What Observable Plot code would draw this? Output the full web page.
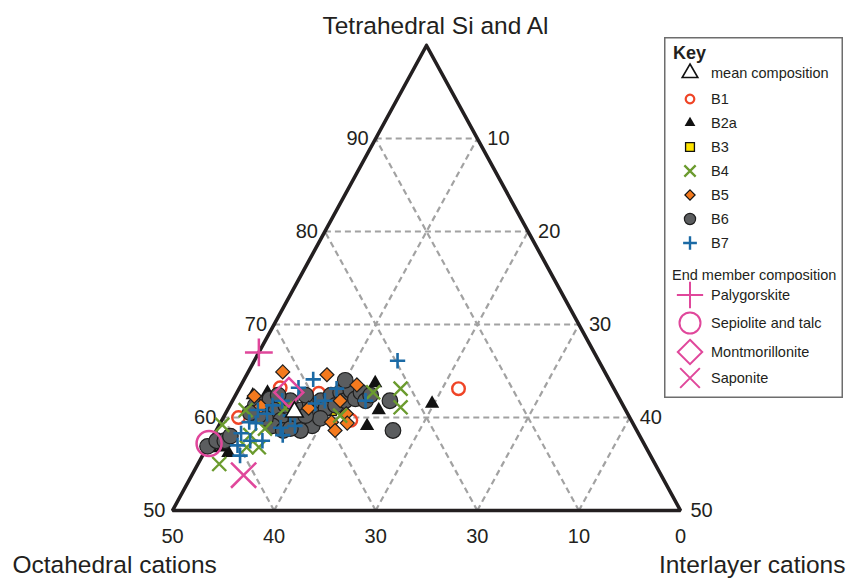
<!DOCTYPE html>
<html><head><meta charset="utf-8">
<script src="https://cdn.jsdelivr.net/npm/d3@7"></script>
<script src="https://cdn.jsdelivr.net/npm/@observablehq/plot@0.6"></script>
<style>
body{margin:0;background:#fff;font-family:"Liberation Sans",Arial,sans-serif;}
#wrap{position:relative;width:847px;height:578px;overflow:hidden;background:#fff}
#legend{position:absolute;left:664px;top:37px;}
</style></head><body><div id="wrap"><div id="chart"></div><div id="legend"></div></div>
<script>
// ---- data: [Tetrahedral Si+Al, Interlayer cations] (%); Octahedral = 100 - T - I
const meanComposition = [[60.6, 6.7]];
const b1 = [[63.1,21.6],[60.0,1.5],[63.2,4.0],[62.6,8.1],[59.7,12.7]];
const b2a = [[61.5,19.8],[63.7,13.1],[60.8,14.9],[59.1,14.6],[62.4,1.7],[62.7,3.0],[56.8,1.5],[56.7,0.4],[56.2,2.4]];
const b3 = [[59.2,8.5],[59.9,4.7],[60.8,10.2]];
const b4 = [[63.1,15.9],[61.1,16.9],[62.7,13.4],[59.2,0.3],[55.0,2.1],[56.8,5.1],[60.8,1.8],[56.8,3.9],[60.2,11.4],[61.0,5.6],[58.8,4.7],[58.1,3.6]];
const b5 = [[64.9,3.4],[64.6,7.9],[63.5,11.4],[60.4,11.9],[59.5,10.9],[59.4,12.5],[58.6,11.7],[62.3,1.9],[61.2,3.1],[61.0,7.9],[61.8,10.6]];
const b6 = [[56.9,0.0],[57.5,0.6],[57.5,1.4],[58.0,1.7],[61.4,3.2],[62.0,3.6],[60.8,4.8],[59.7,5.8],[61.3,5.5],[61.8,5.7],
  [59.7,7.3],[60.8,7.2],[59.1,5.3],[59.9,4.2],[60.2,3.4],[58.6,6.6],[61.5,7.8],[60.5,8.8],[61.8,8.7],[61.0,9.6],
  [62.4,9.4],[61.3,10.4],[62.7,10.2],[61.8,11.1],[62.9,11.1],[62.0,12.0],[62.7,12.2],[64.0,10.0],[61.8,13.1],[62.4,13.3],
  [59.1,9.2],[58.6,8.3],[58.8,7.2],[62.4,6.9],[61.3,2.5],[60.5,2.4],[59.9,9.6],[60.2,8.0],[61.8,15.5],[58.6,17.4],[62.4,4.2]];
const b7 = [[66.1,14.1],[64.1,6.8],[63.1,9.6],[61.8,13.1],[55.9,3.7],[57.0,2.9],[57.5,3.9],[58.3,2.6],[59.4,3.5],[60.8,3.0],
  [60.4,4.1],[61.3,4.2],[61.8,4.9],[60.2,6.5],[59.1,7.5],[58.9,6.2],[58.1,6.8],[63.2,5.8],[61.5,8.3],[61.8,9.1],[57.5,5.1],[59.5,2.8]];
const palygorskite = [[67.0, 0.0]];
const sepioliteTalc = [[57.2, 0.0]];
const montmorillonite = [[62.7, 5.1]];
const saponite = [[53.8, 5.1]];

const tetTicks = [50, 60, 70, 80, 90];
const interTicks = [10, 20, 30, 40, 50];
const octTicks = [50, 40, 30, 20, 10, 0];
const octTickLabels = ["50", "40", "30", "30", "10", "0"];
const gridTet = [60, 70, 80, 90];
const gridOct = [10, 20, 30, 40];
const gridInter = [10, 20, 30, 40];

// ---- helpers
const rows = (arr) => arr.map(([t, i]) => ({tet: t, inter: i, oct: 100 - t - i}));
const X = (t, i) => i + (t - 50) / 2;
const Y = (t) => t - 50;
const px = {x: d => X(d.tet, d.inter), y: d => Y(d.tet)};

const segs = [];
gridTet.forEach(t => segs.push({x1: X(t, 0), y1: Y(t), x2: X(t, 100 - t), y2: Y(t)}));
gridOct.forEach(o => segs.push({x1: X(50, 50 - o), y1: Y(50), x2: X(100 - o, 0), y2: Y(100 - o)}));
gridInter.forEach(i => segs.push({x1: X(50, i), y1: Y(50), x2: X(100 - i, i), y2: Y(100 - i)}));

const outline = [[100, 0], [50, 0], [50, 50], [100, 0]].map(([t, i]) => ({x: X(t, i), y: Y(t)}));

const C = {b1:"#ef4426", b2a:"#111", b3:"#ffe400", b4:"#6b9b2e", b5:"#f47a1e", b6:"#5b5d5f", b7:"#1b6aa5", em:"#e0479b"};
const INK = "#231f20";

const chart = Plot.plot({
  width: 847, height: 578, margin: 0,
  style: {fontFamily: "'Liberation Sans', Arial, sans-serif", color: INK, background: "transparent"},
  x: {domain: [0, 50], range: [172, 680], axis: null},
  y: {domain: [0, 50], range: [510, 45], axis: null},
  marks: [
    Plot.link(segs, {x1: "x1", y1: "y1", x2: "x2", y2: "y2", stroke: "#a2a2a2", strokeWidth: 2.2, strokeDasharray: "6,4"}),
    Plot.line(outline, {x: "x", y: "y", stroke: INK, strokeWidth: 3.6, strokeLinejoin: "miter"}),
    // tick labels
    Plot.text(tetTicks, {x: t => X(t, 0), y: t => Y(t), text: t => String(t), textAnchor: "end", dx: -7, fontSize: 20, fill: INK}),
    Plot.text(interTicks, {x: i => X(100 - i, i), y: i => Y(100 - i), text: i => String(i), textAnchor: "start", dx: 10, fontSize: 20, fill: INK}),
    Plot.text(octTicks.map((o, k) => ({o, label: octTickLabels[k]})), {x: d => X(50, 50 - d.o), y: () => Y(50), text: "label", dy: 26, fontSize: 20, fill: INK}),
    // axis titles
    Plot.text(["Tetrahedral Si and Al"], {x: () => X(100, 0), y: () => Y(100), dx: 9, dy: -19, fontSize: 24.5, fill: INK}),
    Plot.text(["Octahedral cations"], {frameAnchor: "bottom-left", textAnchor: "start", lineAnchor: "bottom", dx: 12, dy: -5.5, fontSize: 24.5, fill: INK}),
    Plot.text(["Interlayer cations"], {frameAnchor: "bottom-right", textAnchor: "end", lineAnchor: "bottom", dx: -2, dy: -5.5, fontSize: 24.5, fill: INK}),
    // data
    Plot.dot(rows(b1), {...px, symbol: "circle", r: 6.3, stroke: C.b1, strokeWidth: 2.4, fill: "none"}),
    Plot.dot(rows(b2a), {...px, symbol: "triangle", r: 5.3, fill: C.b2a, stroke: "none"}),
    Plot.dot(rows(b3), {...px, symbol: "square", r: 6, fill: C.b3, stroke: "#111", strokeWidth: 1.2}),
    Plot.dot(rows(b6), {...px, symbol: "circle", r: 7.8, fill: C.b6, stroke: "#1e1e1e", strokeWidth: 1.2}),
    Plot.dot(rows(b5), {...px, symbol: "diamond2", r: 6.3, fill: C.b5, stroke: "#1e1e1e", strokeWidth: 1.2}),
    Plot.dot(rows(b4), {...px, symbol: "times", r: 6.4, stroke: C.b4, strokeWidth: 2.4, fill: "none"}),
    Plot.dot(rows(b7), {...px, symbol: "plus", r: 5, stroke: C.b7, strokeWidth: 2.6, fill: "none"}),
    // end members
    Plot.dot(rows(palygorskite), {...px, symbol: "plus", r: 9, stroke: C.em, strokeWidth: 2.5, fill: "none"}),
    Plot.dot(rows(sepioliteTalc), {...px, symbol: "circle", r: 12.5, stroke: C.em, strokeWidth: 2.5, fill: "none"}),
    Plot.dot(rows(montmorillonite), {...px, symbol: "diamond2", r: 13, stroke: C.em, strokeWidth: 2.5, fill: "none"}),
    Plot.dot(rows(saponite), {...px, symbol: "times", r: 11.5, stroke: C.em, strokeWidth: 2.5, fill: "none"}),
    Plot.dot(rows(meanComposition), {...px, symbol: "triangle", r: 6.5, fill: "#fff", stroke: "#111", strokeWidth: 1.6})
  ]
});
document.getElementById("chart").appendChild(chart);

// ---- legend (HTML/SVG key)
const legendItems = [
  {label: "mean composition", type: d3.symbolTriangle, r: 5.8, fill: "#fff", stroke: "#111", sw: 1.6},
  {label: "B1", type: d3.symbolCircle, r: 4.3, fill: "none", stroke: C.b1, sw: 2.2},
  {label: "B2a", type: d3.symbolTriangle, r: 4, fill: C.b2a, stroke: "none", sw: 0},
  {label: "B3", type: d3.symbolSquare, r: 5, fill: C.b3, stroke: "#111", sw: 1.3},
  {label: "B4", type: d3.symbolTimes, r: 5.2, fill: "none", stroke: C.b4, sw: 2.3},
  {label: "B5", type: d3.symbolDiamond2, r: 4.6, fill: C.b5, stroke: "#111", sw: 1.2},
  {label: "B6", type: d3.symbolCircle, r: 5.6, fill: C.b6, stroke: "#1e1e1e", sw: 1.2},
  {label: "B7", type: d3.symbolPlus, r: 4.5, fill: "none", stroke: C.b7, sw: 2.4}
];
const endItems = [
  {label: "Palygorskite", type: d3.symbolPlus, r: 8.5, fill: "none", stroke: C.em, sw: 2},
  {label: "Sepiolite and talc", type: d3.symbolCircle, r: 10.5, fill: "none", stroke: C.em, sw: 2},
  {label: "Montmorillonite", type: d3.symbolDiamond2, r: 11, fill: "none", stroke: C.em, sw: 2},
  {label: "Saponite", type: d3.symbolTimes, r: 9, fill: "none", stroke: C.em, sw: 2}
];
const LW = 179, LH = 361;
const svg = d3.select("#legend").append("svg").attr("width", LW).attr("height", LH)
  .style("font-family", "'Liberation Sans', Arial, sans-serif");
svg.append("rect").attr("x", 0.75).attr("y", 0.75).attr("width", LW - 1.5).attr("height", LH - 1.5)
  .attr("fill", "#fff").attr("stroke", "#6d6d6d").attr("stroke-width", 1.5);
svg.append("text").attr("x", 9).attr("y", 16).attr("dy", "0.35em").attr("font-size", 18).attr("font-weight", "bold").attr("fill", INK).text("Key");
const rowY = [36, 62, 86, 110, 134, 158, 182, 206];
legendItems.forEach((d, k) => {
  const g = svg.append("g").attr("transform", `translate(0,${rowY[k]})`);
  g.append("path").attr("transform", "translate(26,0)")
    .attr("d", d3.symbol(d.type, Math.PI * d.r * d.r)())
    .attr("fill", d.fill).attr("stroke", d.stroke).attr("stroke-width", d.sw);
  g.append("text").attr("x", 47).attr("dy", "0.35em").attr("font-size", 14.5).attr("fill", INK).text(d.label);
});
svg.append("text").attr("x", 8).attr("y", 238).attr("dy", "0.35em").attr("font-size", 14.5).attr("fill", INK).text("End member composition");
const endY = [258, 286, 315, 341];
endItems.forEach((d, k) => {
  const g = svg.append("g").attr("transform", `translate(0,${endY[k]})`);
  g.append("path").attr("transform", "translate(26,0)")
    .attr("d", d3.symbol(d.type, Math.PI * d.r * d.r)())
    .attr("fill", d.fill).attr("stroke", d.stroke).attr("stroke-width", d.sw);
  g.append("text").attr("x", 47).attr("dy", "0.35em").attr("font-size", 14.5).attr("fill", INK).text(d.label);
});
</script>
</body></html>
